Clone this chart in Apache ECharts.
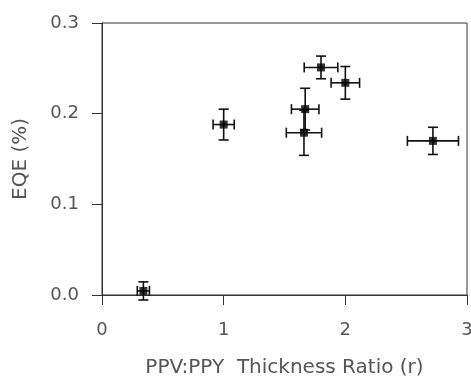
<!DOCTYPE html>
<html>
<head>
<meta charset="utf-8">
<script src="https://cdn.jsdelivr.net/npm/echarts@6/dist/echarts.min.js"></script>
<style>
  html, body { margin: 0; padding: 0; background: #fff; }
  #chart { width: 471px; height: 380px; }
</style>
</head>
<body>
<div id="chart"></div>
<script>
// thickness ratio, EQE and their error bars
const ratio = [0.34, 1.0, 1.67, 1.66, 1.80, 2.0, 2.72]
const eqe = [0.0045, 0.188, 0.205, 0.179, 0.251, 0.234, 0.170]
const ratioErr = [0.05, 0.087, 0.113, 0.145, 0.138, 0.117, 0.21]
const eqeErr = [0.01, 0.017, 0.023, 0.025, 0.0125, 0.018, 0.015]
const xTicks = [0, 1, 2, 3]
const yTicks = [0, 0.1, 0.2, 0.3]

const points = ratio.map((x, i) => [x, eqe[i], ratioErr[i], eqeErr[i]])
const textColor = '#555'
const font = 'DejaVu Sans'

let myChart = echarts.init(document.getElementById('chart'))
let option = {
  animation: false,
  grid: {
    left: 102,
    right: 4,
    top: 23,
    bottom: 85,
    outerBoundsMode: 'none',
    show: true,
    borderColor: '#333',
    borderWidth: 1,
  },
  xAxis: {
    type: 'value',
    min: xTicks[0],
    max: xTicks[xTicks.length - 1],
    interval: 1,
    name: 'PPV:PPY  Thickness Ratio (r)',
    nameLocation: 'middle',
    nameGap: 63,
    nameTextStyle: { color: textColor, fontSize: 20, fontFamily: font },
    axisLine: { lineStyle: { color: '#333', width: 1 } },
    axisTick: { length: 10, lineStyle: { color: '#333' } },
    axisLabel: { color: textColor, fontSize: 18, fontFamily: font, margin: 26 },
    splitLine: { show: false },
  },
  yAxis: {
    type: 'value',
    min: yTicks[0],
    max: yTicks[yTicks.length - 1],
    interval: 0.1,
    name: 'EQE (%)',
    nameLocation: 'middle',
    nameGap: 71,
    nameTextStyle: { color: textColor, fontSize: 20, fontFamily: font },
    axisLine: { lineStyle: { color: '#333', width: 1 } },
    axisTick: { length: 10, lineStyle: { color: '#333' } },
    axisLabel: {
      color: textColor,
      fontSize: 18,
      fontFamily: font,
      margin: 23,
      formatter: (v) => v.toFixed(1),
    },
    splitLine: { show: false },
  },
  series: [
    {
      // error bars
      type: 'custom',
      data: points,
      z: 2,
      renderItem: (params, api) => {
        const x = api.value(0)
        const y = api.value(1)
        const dx = api.value(2)
        const dy = api.value(3)
        const l = api.coord([x - dx, y])
        const r = api.coord([x + dx, y])
        const t = api.coord([x, y + dy])
        const b = api.coord([x, y - dy])
        const cap = 5
        const style = { stroke: '#111', lineWidth: 1.6 }
        const line = (x1, y1, x2, y2) => ({
          type: 'line',
          shape: { x1, y1, x2, y2 },
          style,
        })
        return {
          type: 'group',
          children: [
            line(l[0], l[1], r[0], r[1]),
            line(l[0], l[1] - cap, l[0], l[1] + cap),
            line(r[0], r[1] - cap, r[0], r[1] + cap),
            line(t[0], t[1], b[0], b[1]),
            line(t[0] - cap, t[1], t[0] + cap, t[1]),
            line(b[0] - cap, b[1], b[0] + cap, b[1]),
          ],
        }
      },
    },
    {
      type: 'scatter',
      symbol: 'rect',
      symbolSize: 8,
      itemStyle: { color: '#000' },
      z: 3,
      data: points.map((p) => [p[0], p[1]]),
    },
  ],
}
myChart.setOption(option)
</script>
</body>
</html>
